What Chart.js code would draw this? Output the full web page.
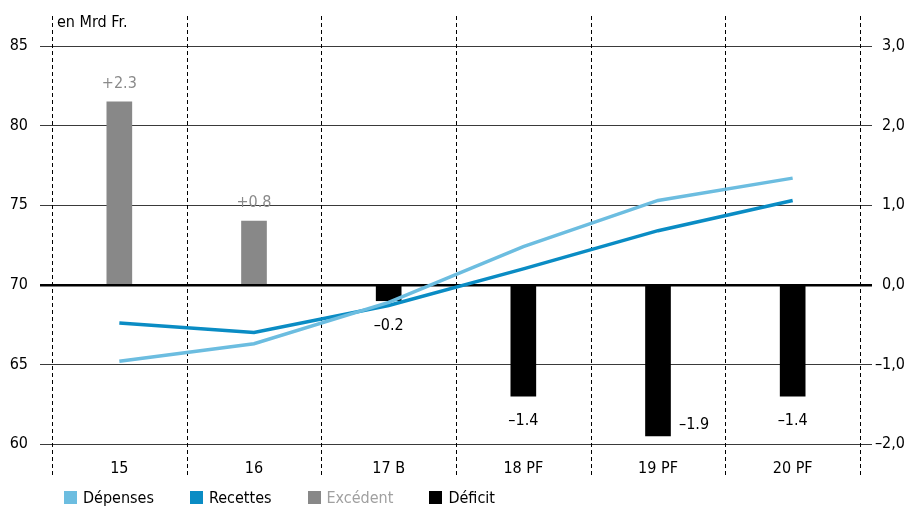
<!DOCTYPE html>
<html>
<head>
<meta charset="utf-8">
<script src="https://cdn.jsdelivr.net/npm/chart.js@4/dist/chart.umd.min.js"></script>
<style>
  html, body { margin: 0; padding: 0; background: #fff; }
  #wrap { position: relative; width: 912px; height: 507px; }
  #legend {
    position: absolute; left: 64px; top: 488px;
    display: flex; gap: 36px;
    font: 16px "DejaVu Sans Condensed", "DejaVu Sans", sans-serif;
  }
  #legend span.item { display: flex; align-items: center; }
  #legend i { display: inline-block; width: 13px; height: 13px; margin-right: 6px; }
</style>
</head>
<body>
<div id="wrap">
  <canvas id="chart" width="912" height="507"></canvas>
  <div id="legend"></div>
</div>
<script>
// Chart data
const YEARS = ["15", "16", "17 B", "18 PF", "19 PF", "20 PF"];
const DEPENSES = [65.2, 66.3, 68.9, 72.4, 75.3, 76.7];
const RECETTES = [67.6, 67.0, 68.7, 71.0, 73.4, 75.3];
const EXCEDENT = [2.3, 0.8, null, null, null, null];
const DEFICIT = [null, null, -0.2, -1.4, -1.9, -1.4];

const FONT = "'DejaVu Sans Condensed', 'DejaVu Sans', sans-serif";
const COLORS = {
  depenses: "#6cbde0",
  recettes: "#0a8cc4",
  excedent: "#888888",
  deficit:  "#000000",
  grid:     "#3a3a3a",
};

const LEGEND = [
  { label: "Dépenses", color: COLORS.depenses, text: "#000" },
  { label: "Recettes", color: COLORS.recettes, text: "#000" },
  { label: "Excédent", color: COLORS.excedent, text: "#a0a0a0" },
  { label: "Déficit",  color: COLORS.deficit,  text: "#000" },
];

function fmtSigned(v) {
  if (v > 0) return "+" + v.toFixed(1);
  return "\u2013" + Math.abs(v).toFixed(1);
}

// dashed category separators + unit label
const frame = {
  id: "frame",
  beforeDatasetsDraw(chart) {
    const { ctx, chartArea } = chart;
    const x = chart.scales.x;
    const half = (x.getPixelForValue(1) - x.getPixelForValue(0)) / 2;
    ctx.save();
    ctx.strokeStyle = "#000";
    ctx.lineWidth = 1;
    ctx.setLineDash([4, 3]);
    for (let i = 0; i <= YEARS.length; i++) {
      const px = Math.round(x.getPixelForValue(i) - half) + 0.5;
      ctx.beginPath();
      ctx.moveTo(px, chartArea.top - 30);
      ctx.lineTo(px, chartArea.bottom + 31);
      ctx.stroke();
    }
    ctx.setLineDash([]);
    ctx.fillStyle = "#000";
    ctx.font = "16px " + FONT;
    ctx.textAlign = "left";
    ctx.textBaseline = "middle";
    ctx.fillText("en Mrd Fr.", chartArea.left + 5, chartArea.top - 23);
    ctx.restore();
  },
};

// value labels on the balance bars
const barLabels = {
  id: "barLabels",
  afterDatasetsDraw(chart) {
    const { ctx, chartArea } = chart;
    ctx.save();
    ctx.font = "16px " + FONT;
    ctx.textBaseline = "middle";
    [2, 3].forEach((di) => {
      const meta = chart.getDatasetMeta(di);
      const data = chart.data.datasets[di].data;
      meta.data.forEach((bar, i) => {
        const v = data[i];
        if (v == null) return;
        const txt = fmtSigned(v);
        if (v > 0) {
          ctx.fillStyle = "#8a8a8a";
          ctx.textAlign = "center";
          ctx.fillText(txt, bar.x, bar.y - 18);
        } else if (bar.y + 26 > chartArea.bottom - 8) {
          ctx.fillStyle = "#000";
          ctx.textAlign = "left";
          ctx.fillText(txt, bar.x + 21, bar.y - 11);
        } else {
          ctx.fillStyle = "#000";
          ctx.textAlign = "center";
          ctx.fillText(txt, bar.x, bar.y + 25);
        }
      });
    });
    ctx.restore();
  },
};

const gridColor = (c) => (c.tick && c.tick.value === 70 ? "#000" : COLORS.grid);
const gridWidth = (c) => (c.tick && c.tick.value === 70 ? 2.5 : 1);
const gridColor2 = (c) => (c.tick && c.tick.value === 0 ? "#000" : COLORS.grid);
const gridWidth2 = (c) => (c.tick && c.tick.value === 0 ? 2.5 : 1);

new Chart(document.getElementById("chart"), {
  type: "bar",
  data: {
    labels: YEARS,
    datasets: [
      {
        type: "line", label: "Dépenses", data: DEPENSES, yAxisID: "y",
        borderColor: COLORS.depenses, borderWidth: 3.5, pointRadius: 0,
        tension: 0, order: 0,
      },
      {
        type: "line", label: "Recettes", data: RECETTES, yAxisID: "y",
        borderColor: COLORS.recettes, borderWidth: 3.5, pointRadius: 0,
        tension: 0, order: 0,
      },
      {
        label: "Excédent", data: EXCEDENT, yAxisID: "y2",
        backgroundColor: COLORS.excedent, barThickness: 25, grouped: false, order: 1,
      },
      {
        label: "Déficit", data: DEFICIT, yAxisID: "y2",
        backgroundColor: COLORS.deficit, barThickness: 25, grouped: false, order: 1,
      },
    ],
  },
  options: {
    responsive: false,
    animation: false,
    layout: { padding: { top: 46, right: 7, left: 0, bottom: 23 } },
    plugins: { legend: { display: false }, tooltip: { enabled: false } },
    scales: {
      x: {
        grid: { display: false },
        border: { display: false },
        ticks: { color: "#000", font: { family: FONT, size: 16 }, padding: 7 },
        afterFit: (s) => { s.height = 40; },
      },
      y: {
        position: "left",
        min: 60, max: 85,
        ticks: { stepSize: 5, color: "#000", font: { family: FONT, size: 16 }, padding: 12 },
        grid: { color: gridColor, lineWidth: gridWidth, tickLength: 12 },
        border: { display: false },
        afterFit: (s) => { s.width = 52; },
      },
      y2: {
        position: "right",
        min: -2, max: 3,
        ticks: {
          stepSize: 1, color: "#000", font: { family: FONT, size: 16 }, padding: 8,
          crossAlign: "far",
          callback: (v) => (v < 0 ? "\u2013" : "") + Math.abs(v).toFixed(1).replace(".", ","),
        },
        grid: { drawOnChartArea: false, color: gridColor2, lineWidth: gridWidth2, tickLength: 12 },
        border: { display: false },
        afterFit: (s) => { s.width = 45; },
      },
    },
  },
  plugins: [frame, barLabels],
});

// legend
const legendEl = document.getElementById("legend");
legendEl.innerHTML = LEGEND.map((l) =>
  `<span class="item"><i style="background:${l.color}"></i><span style="color:${l.text}">${l.label}</span></span>`
).join("");
</script>
</body>
</html>
